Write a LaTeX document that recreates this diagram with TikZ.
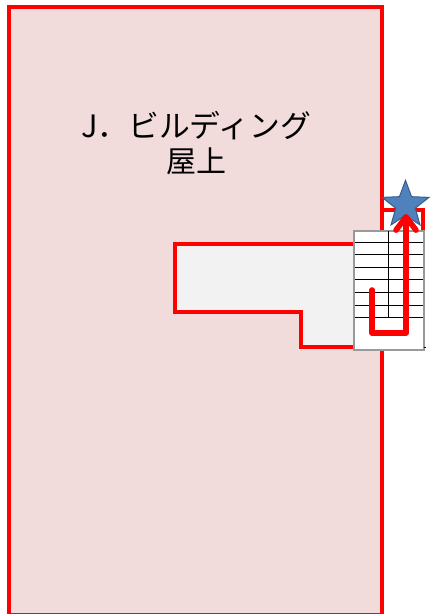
\documentclass[tikz,border=0pt]{standalone}
\usepackage{fontspec}
\newfontfamily\cjk{Noto Sans CJK JP}
\usetikzlibrary{arrows.meta,shapes.geometric}
\definecolor{roofpink}{HTML}{F2DCDB}
\definecolor{voidgray}{HTML}{F2F2F2}
\definecolor{starblue}{HTML}{4F81BD}
\definecolor{starline}{HTML}{385D8A}
\tikzset{
	redwall/.style={draw=red, line width=3pt, miter limit=2},
	stairline/.style={draw=black, line width=0.75pt},
}
\begin{document}
\begin{tikzpicture}[x=0.75pt, y=-0.75pt]
	\useasboundingbox (0,0) rectangle (430,614);
	% building and the small roof part
	\draw[redwall] (382,210) -- (423,210) -- (423,316);
	\draw[redwall, fill=roofpink] (9,7) rectangle (382,615);
	\draw[redwall, fill=voidgray] (356,244) -- (175,244) -- (175,312) -- (301,312) -- (301,347) -- (356,347);
	\node[font=\cjk\fontsize{22.5pt}{26pt}\selectfont, align=center] (roof) at (196,143) {{\fontsize{23.1pt}{26pt}\selectfont J．ビルディング}\\屋上};
	% stairs
	\draw[gray!80, line width=1pt, fill=white] (354,231) rectangle (424,350);
	\foreach \j in {242,254,267,279,292,305,317}{
		\draw[stairline] (355,\j) -- (423,\j);
	}
	\draw[stairline] (388,231) -- (388,317);
	\draw[stairline] (424,347) -- (426,347);
	\node[star, star points=5, star point ratio=2.4, minimum size=37pt, inner sep=0pt, fill=starblue, draw=starline, line width=0.75pt] (goal) at (405.5,205) {};
	\coordinate (start) at (372,290);
	\coordinate (tip) at (406,214);
	\draw[red, line width=4.2pt, line join=round, line cap=round, -{Straight Barb[length=10pt, width=15pt, round]}] (start) -- (372,333) -- (406,333) -- (tip);
\end{tikzpicture}
\end{document}
